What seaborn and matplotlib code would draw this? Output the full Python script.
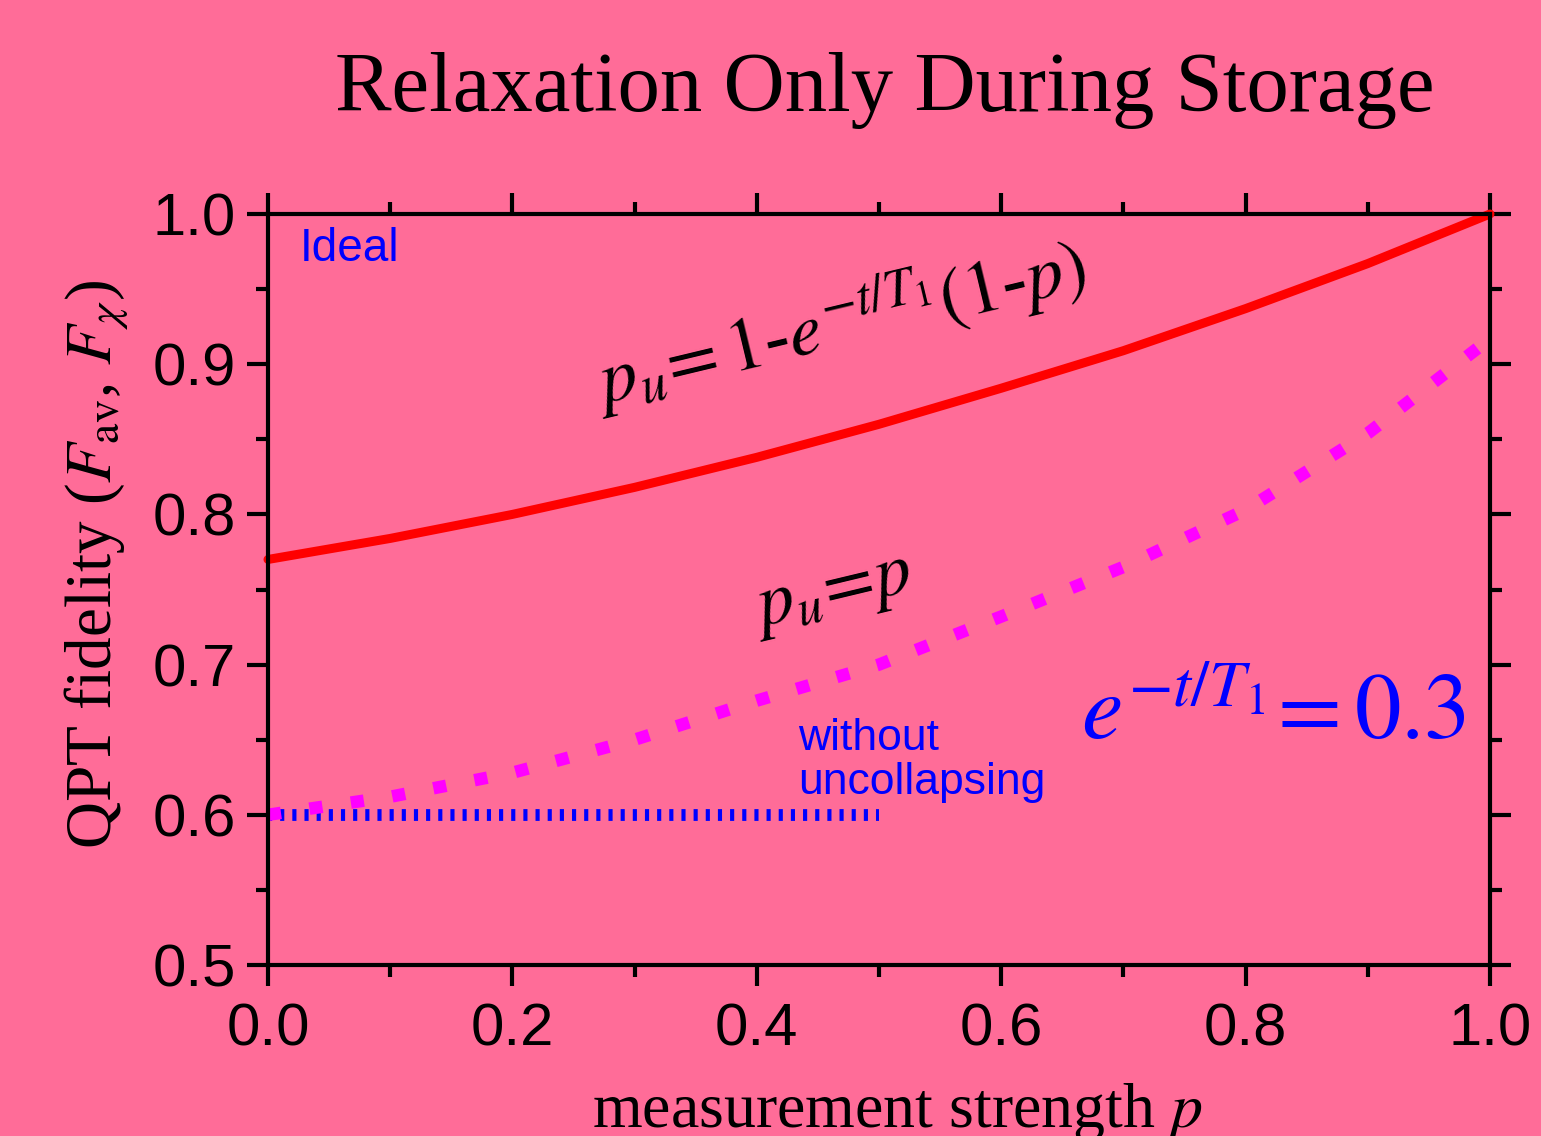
import matplotlib
matplotlib.use('Agg')
import matplotlib.pyplot as plt
from matplotlib.ticker import MultipleLocator
import pandas as pd
import seaborn as sns

# measurement strength p
p_vals = [0.0, 0.1, 0.2, 0.3, 0.4, 0.5, 0.6, 0.7, 0.8, 0.9, 1.0]
# fidelity with uncollapsing, p_u = 1 - e^{-t/T1}(1-p)
fid_opt = [0.770, 0.784, 0.800, 0.818, 0.838, 0.860, 0.884, 0.909, 0.937, 0.967, 1.000]
# fidelity with p_u = p
fid_pu_p = [0.600, 0.612, 0.628, 0.650, 0.676, 0.700, 0.732, 0.765, 0.803, 0.854, 0.917]
# without uncollapsing
p_without = [0.0, 0.5]
fid_without = [0.600, 0.600]

BG = '#FF6C98'

sns.set_theme(style='ticks')
plt.rcParams['font.family'] = ['Liberation Sans', 'DejaVu Sans']
plt.rcParams['mathtext.fontset'] = 'stix'
plt.rcParams['axes.unicode_minus'] = False
for k in ['text.color', 'axes.labelcolor', 'xtick.color', 'ytick.color',
          'xtick.labelcolor', 'ytick.labelcolor']:
    plt.rcParams[k] = 'black'

fig = plt.figure(figsize=(15.41, 11.36), dpi=100, facecolor=BG)
ax = fig.add_axes([268 / 1541, 1 - 965 / 1136, (1490 - 268) / 1541, (965 - 214) / 1136])
ax.set_facecolor(BG)

df_opt = pd.DataFrame({'p': p_vals, 'F': fid_opt})
df_pu = pd.DataFrame({'p': p_vals, 'F': fid_pu_p})
df_wo = pd.DataFrame({'p': p_without, 'F': fid_without})

sns.lineplot(data=df_wo, x='p', y='F', ax=ax, color='#0000FF', lw=8.5,
             linestyle=(0, (0.35, 0.68)), clip_on=False)
sns.lineplot(data=df_pu, x='p', y='F', ax=ax, color='#FF00FF', lw=9,
             linestyle=(0, (1.05, 2.3)), clip_on=False)
sns.lineplot(data=df_opt, x='p', y='F', ax=ax, color='#FF0000', lw=6.5, clip_on=False)

ax.set_xlim(0, 1)
ax.set_ylim(0.5, 1.0)
ax.xaxis.set_major_locator(MultipleLocator(0.2))
ax.xaxis.set_minor_locator(MultipleLocator(0.1))
ax.yaxis.set_major_locator(MultipleLocator(0.1))
ax.yaxis.set_minor_locator(MultipleLocator(0.05))
ax.set_xticklabels([f'{v:.1f}' for v in ax.get_xticks()])
ax.set_yticklabels([f'{v:.1f}' for v in ax.get_yticks()])

for s in ax.spines.values():
    s.set_linewidth(3)
    s.set_color('black')
ax.tick_params(which='both', direction='out', top=True, right=True,
               width=3, color='black', labelsize=43)
ax.tick_params(which='major', length=15)
ax.tick_params(which='minor', length=8.5)
ax.tick_params(axis='x', pad=12)
ax.tick_params(axis='y', pad=8)

ax.set_xlabel(r'measurement strength $p$', family='Liberation Serif', fontsize=46)
ax.xaxis.set_label_coords(0.515, -0.155)
ax.set_ylabel(r'QPT fidelity ($F_{\mathrm{av}}$, $F_\chi$)', family='Liberation Serif',
              fontsize=47)
ax.yaxis.set_label_coords(-0.112, 0.533)

fig.text(0.574, 0.902, 'Relaxation Only During Storage', family='Liberation Serif',
         fontsize=61, ha='center', va='baseline')

ax.text(0.026, 0.962, 'Ideal', color='#0000FF', family='Liberation Sans',
        fontsize=33, va='bottom')
ax.text(0.434, 0.636, 'without\nuncollapsing', color='#0000FF',
        family='Liberation Sans', fontsize=32, linespacing=1.1, va='center')
ax.text(0.468, 0.927, r'$p_u\!=1$-$e^{-t/T_1}(1$-$p)$', family='Liberation Serif',
        fontsize=54, rotation=13.5, ha='center', va='center', rotation_mode='anchor')
ax.text(0.4615, 0.748, r'$p_u\!=\!p$', family='Liberation Serif',
        fontsize=53, rotation=13.5, ha='center', va='center', rotation_mode='anchor')
ax.text(0.98, 0.665, r'$e^{-t/T_1}\!=0.3$', color='#0000FF', family='Liberation Serif',
        fontsize=67, ha='right', va='center')

fig.savefig('out.png', dpi=100, facecolor=BG)
